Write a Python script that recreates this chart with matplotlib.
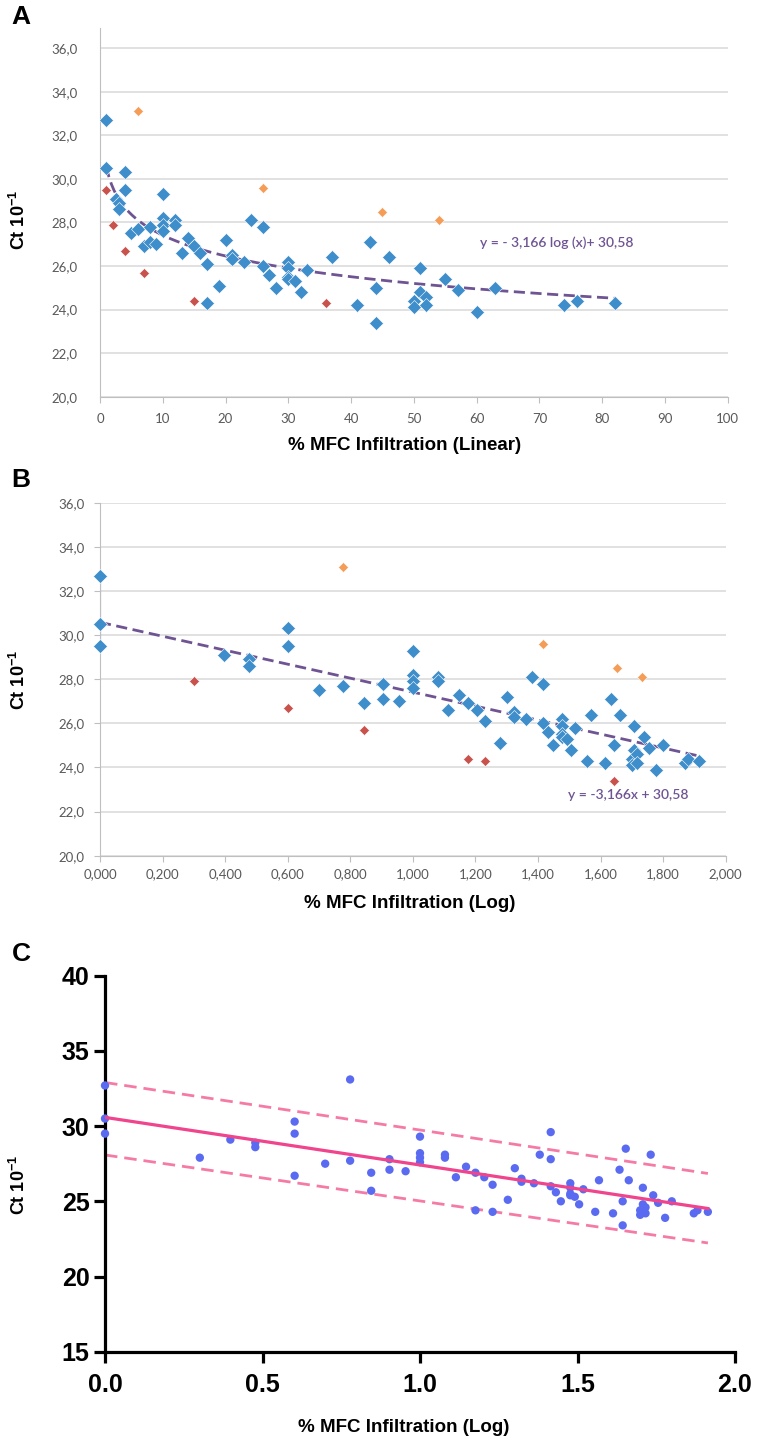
import matplotlib
matplotlib.use("Agg")
import matplotlib.pyplot as plt
from matplotlib.ticker import FuncFormatter, MultipleLocator
import numpy as np

# ── data ──────────────────────────────────────────────────────────
# % MFC infiltration and Ct value per sample
pct = [1, 1, 1, 2, 2.5, 3, 3, 4, 4, 4, 5, 6, 6, 7, 7, 8, 8, 9,
       10, 10, 10, 10, 12, 12, 13, 14, 15, 15, 16, 17, 17, 19, 20, 21, 21,
       23, 24, 26, 26, 26, 27, 28, 30, 30, 30, 30, 31, 32, 33, 36, 37,
       41, 43, 44, 44, 45, 46, 50, 50, 51, 51, 52, 52, 54, 55, 57, 60,
       63, 74, 76, 82]
ct = [32.7, 30.5, 29.5, 27.9, 29.1, 28.9, 28.6, 30.3, 29.5, 26.7, 27.5, 33.1, 27.7, 26.9, 25.7, 27.8, 27.1, 27.0,
      29.3, 28.2, 27.9, 27.6, 28.1, 27.9, 26.6, 27.3, 26.9, 24.4, 26.6, 26.1, 24.3, 25.1, 27.2, 26.5, 26.3,
      26.2, 28.1, 29.6, 27.8, 26.0, 25.6, 25.0, 26.2, 25.9, 25.5, 25.4, 25.3, 24.8, 25.8, 24.3, 26.4,
      24.2, 27.1, 25.0, 23.4, 28.5, 26.4, 24.4, 24.1, 25.9, 24.8, 24.6, 24.2, 28.1, 25.4, 24.9, 23.9,
      25.0, 24.2, 24.4, 24.3]
# point colour groups (b = blue, r = red, o = orange), one string per row above
group_a = list("bbrrbbbbbrbobbrbbb"
               "bbbbbbbbbrbbbbbbb"
               "bbobbbbbbbbbbbrb"
               "bbbbobbbbbbbobbb"
               "bbbb")
group_b = list("bbbrbbbbbrbobbrbbb"
               "bbbbbbbbbrbbrbbbb"
               "bbobbbbbbbbbbbbb"
               "bbbrobbbbbbbobbb"
               "bbbb")

# trend line printed on the figure
slope = -3.166
intercept = 30.58

# 95% prediction band of panel C (ends of the dashed lines)
band_x = [0.0, 1.914]
band_upper = [32.9, 26.85]
band_lower = [28.08, 22.23]

COLORS = {'b': '#3E8ECB', 'r': '#C9524C', 'o': '#F59D56'}
SIZES = {'b': 7.2, 'r': 5.4, 'o': 5.4}
TREND = '#6F5494'
GRID = '#D9D9D9'
TICKC = '#595959'

plt.rcParams['mathtext.fontset'] = 'custom'
plt.rcParams['mathtext.rm'] = 'Liberation Sans:bold'
plt.rcParams['mathtext.default'] = 'rm'

W, H = 759, 1441
fig = plt.figure(figsize=(W / 100, H / 100), dpi=100, facecolor='white')


def box(l, r, t, b):
    return [l / W, 1 - b / H, (r - l) / W, (b - t) / H]


def comma(fmt):
    return FuncFormatter(lambda v, p: format(v, fmt).replace('.', ','))


pct_a = np.array(pct)
ct_a = np.array(ct)
log_x = np.log10(pct_a)

lab = dict(family='Liberation Sans', fontweight='bold', color='black')

# ── A: linear x ───────────────────────────────────────────────────
axA = fig.add_axes(box(100, 727.7, 28, 396.7))
axA.set_xlim(0, 100)
axA.set_ylim(20, 36.93)
axA.set_yticks(np.arange(20, 37, 2))
axA.xaxis.set_major_locator(MultipleLocator(10))
axA.yaxis.set_major_formatter(comma('.1f'))
axA.grid(axis='y', color=GRID, lw=1.1)
axA.set_axisbelow(True)
for s in ['top', 'right']:
    axA.spines[s].set_visible(False)
for s in ['left', 'bottom']:
    axA.spines[s].set_color('#BFBFBF')
axA.tick_params(axis='y', length=0, pad=16, labelsize=9.5, labelcolor=TICKC)
axA.tick_params(axis='x', length=4, color='#BFBFBF', pad=8, labelsize=9.5, labelcolor=TICKC)
for t in axA.get_xticklabels() + axA.get_yticklabels():
    t.set_family('Lato')
xs = np.linspace(1, max(pct), 200)
axA.plot(xs, slope * np.log10(xs) + intercept, ls=(0, (4, 2)), color=TREND, lw=2.0, zorder=2)
for g in ['b', 'r', 'o']:
    m = np.array(group_a) == g
    axA.plot(pct_a[m], ct_a[m], 'D', ms=SIZES[g], color=COLORS[g], mec='white', mew=0.4,
             ls='none', zorder=3)
axA.text(60.5, 27.05, 'y = - 3,166 log (x)+ 30,58', color=TREND, fontsize=10,
         family='Lato', fontweight='semibold', va='center')

# ── B: log x ──────────────────────────────────────────────────────
axB = fig.add_axes(box(100, 725.7, 502.7, 855.7))
axB.set_xlim(0, 2.0)
axB.set_ylim(20, 36)
axB.set_yticks(np.arange(20, 37, 2))
axB.xaxis.set_major_locator(MultipleLocator(0.2))
axB.yaxis.set_major_formatter(comma('.1f'))
axB.xaxis.set_major_formatter(comma('.3f'))
axB.grid(axis='y', color=GRID, lw=1.1)
axB.set_axisbelow(True)
for s in ['top', 'right']:
    axB.spines[s].set_visible(False)
for s in ['left', 'bottom']:
    axB.spines[s].set_color('#BFBFBF')
axB.tick_params(length=4, color='#BFBFBF', labelsize=9.5, labelcolor=TICKC)
axB.tick_params(axis='y', pad=7)
axB.tick_params(axis='x', pad=5)
for t in axB.get_xticklabels() + axB.get_yticklabels():
    t.set_family('Lato')
zero = pct_a == 1
axB.plot(log_x[zero], ct_a[zero], color=COLORS['b'], lw=0.8, zorder=2)
xl = np.array([0, log_x.max()])
axB.plot(xl, slope * xl + intercept, ls=(0, (4, 2)), color=TREND, lw=2.0, zorder=2)
for g in ['b', 'r', 'o']:
    m = np.array(group_b) == g
    axB.plot(log_x[m], ct_a[m], 'D', ms=SIZES[g], color=COLORS[g], mec='white', mew=0.4,
             ls='none', zorder=3, clip_on=False)
axB.text(1.496, 22.75, 'y = -3,166x + 30,58', color=TREND, fontsize=10,
         family='Lato', fontweight='semibold', va='center')

# ── C: regression with prediction band ────────────────────────────
axC = fig.add_axes(box(105, 735, 975.7, 1351.7))
axC.set_xlim(0, 2.0)
axC.set_ylim(15, 40)
axC.set_xticks([0, 0.5, 1.0, 1.5, 2.0])
axC.set_yticks([15, 20, 25, 30, 35, 40])
axC.xaxis.set_major_formatter(FuncFormatter(lambda v, p: f'{v:.1f}'))
for s in ['top', 'right']:
    axC.spines[s].set_visible(False)
for s in ['left', 'bottom']:
    axC.spines[s].set_linewidth(2.3)
axC.tick_params(width=2.3, length=8, labelsize=18)
axC.tick_params(axis='x', pad=7)
axC.tick_params(axis='y', pad=3)
for t in axC.get_xticklabels() + axC.get_yticklabels():
    t.set_family('Liberation Sans')
    t.set_fontweight('bold')
axC.plot(band_x, band_upper, ls=(0, (4.5, 2.5)), color='#F57BA6', lw=2.0)
axC.plot(band_x, band_lower, ls=(0, (4.5, 2.5)), color='#F57BA6', lw=2.0)
axC.scatter(log_x, ct_a, s=36, color='#5A6BF2', edgecolors='none', zorder=3, clip_on=False)
axC.plot(xl, slope * xl + intercept, color='#F0448C', lw=2.3, zorder=4)

# ── labels ────────────────────────────────────────────────────────
for letter, y in [('A', 17), ('B', 480), ('C', 954)]:
    fig.text(21 / W, 1 - y / H, letter, fontsize=19, ha='center', va='center', **lab)

ylab = r'Ct 10$^{-1}$'
for y in [220, 680, 1185]:
    fig.text(19 / W, 1 - y / H, ylab, fontsize=13, rotation=90, ha='center', va='center', **lab)

fig.text(405 / W, 1 - 446 / H, '% MFC Infiltration (Linear)', fontsize=13.5, ha='center', va='center', **lab)
fig.text(410 / W, 1 - 904 / H, '% MFC Infiltration (Log)', fontsize=13.5, ha='center', va='center', **lab)
fig.text(404 / W, 1 - 1428 / H, '% MFC Infiltration (Log)', fontsize=13.5, ha='center', va='center', **lab)

fig.savefig('out.png', dpi=100, facecolor='white')
